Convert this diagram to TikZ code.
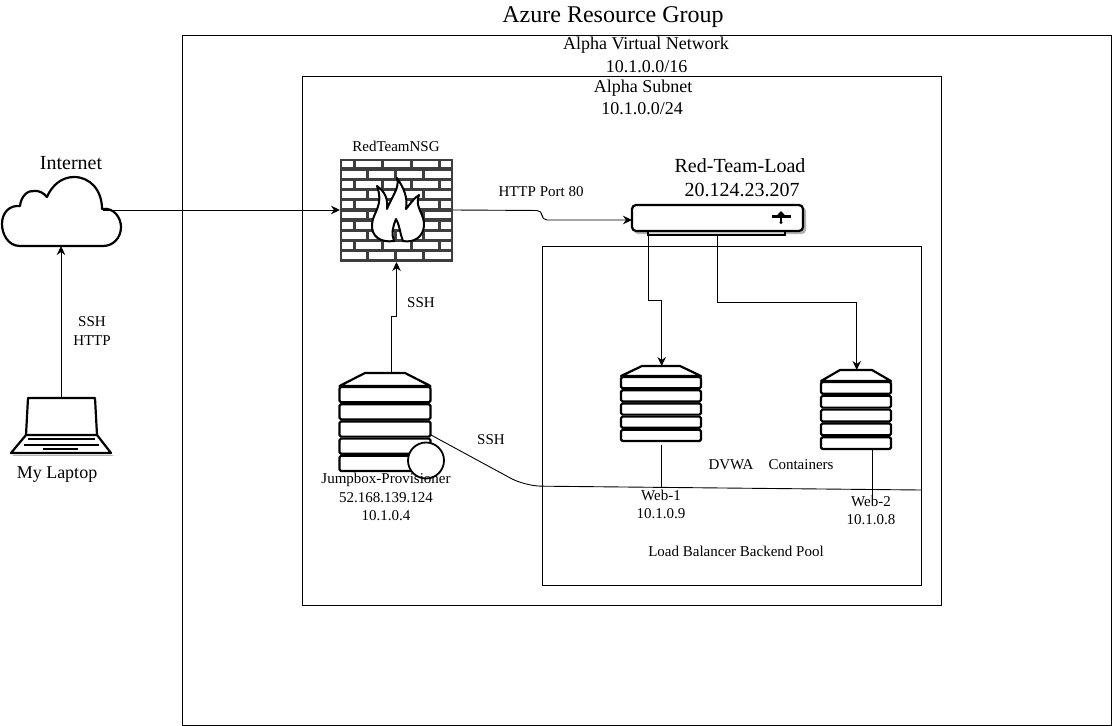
\documentclass[tikz,border=0pt]{standalone}
\usepackage{fontspec}
\setmainfont{Liberation Serif}
\usetikzlibrary{arrows.meta,positioning,calc}
\definecolor{wallgray}{RGB}{62,62,62}
\tikzset{
  groupbox/.style={draw,line width=0.9pt,inner sep=0pt},
  lbl/.style={inner sep=0pt,align=center,font=\fontsize{15}{18.5}\selectfont},
  midlbl/.style={inner sep=0pt,align=center,font=\fontsize{18}{21}\selectfont},
  biglbl/.style={inner sep=0pt,align=center,font=\fontsize{20}{24}\selectfont},
  iconline/.style={draw,line width=2.2pt,line join=round},
  rackrow/.style={iconline,fill=white,rounded corners=1.5pt},
  conn/.style={-{Stealth[length=9pt,width=8.5pt]},line width=0.9pt},
  plainconn/.style={line width=0.9pt},
  pics/rack/.style args={#1/#2/#3/#4}{code={
    % #1 half width, #2 half width of the roof, #3 roof height, #4 row pitch
    \draw[iconline,fill=white] (-#1,0) -- (-#2,-#3) -- (#2,-#3) -- (#1,0) -- cycle;
    \foreach \row in {0,...,4}
      \draw[rackrow] (-#1,\row*#4+1) rectangle (#1,\row*#4+#4-1);
  }}
}
\begin{document}
\begin{tikzpicture}[x=1pt,y=-1pt,>=Stealth]
  \useasboundingbox (0,0) rectangle (1112,726);
  % boxes
  \node[groupbox,minimum width=929pt,minimum height=689.5pt] (resgroup) at (646.5,380.5) {};
  \node[groupbox,minimum width=639pt,minimum height=529pt] (subnet) at (621.5,340.5) {};
  \node[groupbox,minimum width=379pt,minimum height=339pt] (pool) at (731.5,415.5) {};
  % titles
  \node[inner sep=0pt,font=\fontsize{24}{24}\selectfont] (title) at (613,17) {Azure Resource Group};
  \node[midlbl] (vnet) at (646,45.5) {Alpha Virtual Network};
  \node[midlbl] (vnetip) at (646.5,67) {10.1.0.0/16};
  \node[midlbl] (alphasub) at (643,88) {Alpha Subnet};
  \node[midlbl] (subip) at (642,109) {10.1.0.0/24};
  % cloud
  \draw[iconline,fill=white]
    (20,246) .. controls (8,246) and (2,234) .. (2,224)
    .. controls (2,212) and (10,205) .. (20,206)
    .. controls (21,196) and (28,190) .. (34,191)
    .. controls (38,190) and (44,193) .. (47,197)
    .. controls (52,185) and (62,177) .. (74,177)
    .. controls (90,177) and (102,190) .. (102,209)
    .. controls (114,207) and (121,218) .. (121,227)
    .. controls (121,238) and (113,246) .. (103,246) -- cycle;
  \coordinate (cloudr) at (103,210);
  \coordinate (cloudb) at (61,246);
  \node[biglbl] (internet) at (71,163) {Internet};
  % laptop
  \draw[black!30,line width=1.5pt] (13,455.5) -- (113,455.5);
  \draw[iconline] (28,398) -- (95,398) -- (97,435) -- (26,435) -- cycle;
  \draw[iconline] (26,435) -- (11,453) -- (111,453) -- (97,435);
  \draw[line width=1.3pt] (28,439) -- (95,439) (24,445) -- (99,445);
  \draw[line width=2pt] (43,449) -- (78,449);
  \coordinate (laptoptop) at (61,398);
  \node[midlbl] (mylaptop) at (57,475) {My Laptop};
  % firewall
  \fill[wallgray] (340,159) rectangle (453,262);
  \foreach \row in {0,...,9}{
    \pgfmathsetmacro{\rowy}{160.5+\row*10.2}
    \pgfmathtruncatemacro{\odd}{mod(\row,2)}
    \ifnum\odd=0
      \foreach \xa/\xb in {342/353,356/381,384/410,413/438,441/451}
        \fill[white] (\xa,\rowy) rectangle (\xb,\rowy+6.8);
    \else
      \foreach \xa/\xb in {342/366,369/394,397/422,425/451}
        \fill[white] (\xa,\rowy) rectangle (\xb,\rowy+6.8);
    \fi
  }
  \draw[line width=2pt,fill=white,line join=round]
    (394,241) .. controls (380,243) and (371,236) .. (372,224)
    .. controls (373,212) and (384,206) .. (377,186)
    .. controls (385,192) and (388,198) .. (387,209)
    .. controls (392,196) and (400,188) .. (397,178)
    .. controls (404,188) and (408,198) .. (406,209)
    .. controls (411,203) and (414,198) .. (419,195)
    .. controls (414,207) and (425,214) .. (424,226)
    .. controls (423,237) and (414,243) .. (403,241)
    .. controls (400,234) and (400,226) .. (396,219)
    .. controls (393,226) and (391,234) .. (394,241) -- cycle;
  \coordinate (wallw) at (340,210);
  \coordinate (walle) at (453,210);
  \coordinate (walls) at (396.5,262);
  \node[lbl] (nsg) at (396,146) {RedTeamNSG};
  % load balancer
  \fill[black!30,rounded corners=4pt] (634,207) rectangle (806,234);
  \draw[line width=1.3pt,fill=black!15] (648,229) rectangle (785,235);
  \draw[iconline,fill=white,rounded corners=4pt] (632,205) rectangle (803,231);
  \draw[line width=2.6pt] (772,216.5) -- (791,216.5);
  \fill (775,217.5) -- (781,211) -- (787,217.5) -- cycle;
  \draw[line width=1.6pt] (781,214) -- (781,222);
  \fill (781,222.5) circle (1.6pt);
  \coordinate (lbw) at (632,220);
  \coordinate (lbsa) at (648,235);
  \coordinate (lbsb) at (717,235);
  \node[biglbl] (lbname) at (740,166) {Red-Team-Load};
  \node[biglbl] (lbip) at (742,190) {20.124.23.207};
  % servers
  \pic at (385,386) {rack={45.5/20/13/17.2}};
  \coordinate (jumptop) at (391.5,373);
  \coordinate (jumpe) at (431,435);
  \node[draw,line width=1.8pt,fill=white,circle,minimum size=36pt,inner sep=0pt] (badge) at (426,460.5) {};
  \pic at (661,376) {rack={40/19/10/13.2}};
  \coordinate (webatop) at (661.7,366);
  \coordinate (webabot) at (661,445);
  \pic at (856,381) {rack={35/16/11/13.8}};
  \coordinate (webbtop) at (856.7,370);
  \coordinate (webbbot) at (872,449);
  \coordinate (sshend) at (921,490);
  \coordinate (webaend) at (661,487);
  \coordinate (webbend) at (872,503);
  % connectors
  \draw[conn] (laptoptop) -- (cloudb);
  \draw[conn] (cloudr) -- (wallw);
  \draw[conn,rounded corners=5pt] (walle) -- (542,210.5) -- (542,220) -- (lbw);
  \draw[conn] (jumptop) -- (391.5,316.5) -- (396.5,316.5) -- (walls);
  \draw[conn] (lbsa) -- (648,300.5) -- (661.7,300.5) -- (webatop);
  \draw[conn] (lbsb) -- (717,302.7) -- (856.7,302.7) -- (webbtop);
  \draw[plainconn,rounded corners=16pt] (jumpe) -- (525,486) -- (sshend);
  \draw[plainconn] (webabot) -- (webaend);
  \draw[plainconn] (webbbot) -- (webbend);
  % labels
  \node[lbl] (httplbl) at (541,191.5) {HTTP Port 80};
  \node[lbl] (sshup) at (421,302.5) {SSH};
  \node[lbl] (sshdown) at (491,439.5) {SSH};
  \node[lbl] (sshhttp) at (92,331) {SSH\\HTTP};
  \node[lbl] (jumpname) at (386,497) {Jumpbox-Provisioner\\52.168.139.124\\10.1.0.4};
  \node[lbl] (dvwa) at (731,464.5) {DVWA};
  \node[lbl] (contain) at (801,464.5) {Containers};
  \node[lbl] (weba) at (661,504.5) {Web-1\\10.1.0.9};
  \node[lbl] (webb) at (871,510.5) {Web-2\\10.1.0.8};
  \node[lbl] (poolname) at (736,551.5) {Load Balancer Backend Pool};
\end{tikzpicture}
\end{document}
